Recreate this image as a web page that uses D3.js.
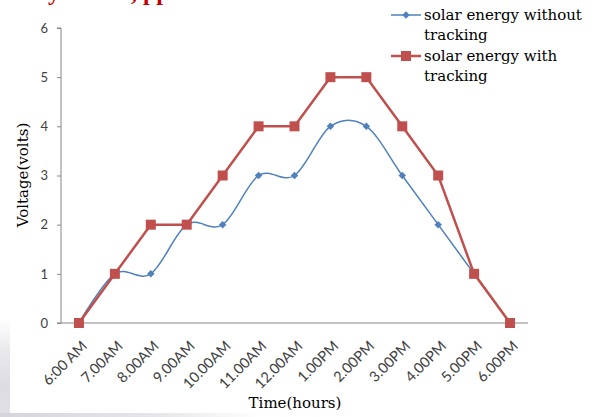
<!DOCTYPE html>
<html>
<head>
<meta charset="utf-8">
<script src="https://cdn.jsdelivr.net/npm/d3@7"></script>
<style>
  html, body { margin: 0; padding: 0; background: #fff; }
  svg { display: block; }
</style>
</head>
<body>
<svg id="chart" width="595" height="417"></svg>
<script>
// Hour labels along the x axis
const hours = ["6:00 AM", "7.00AM", "8.00AM", "9.00AM", "10.00AM", "11.00AM", "12.00AM",
               "1.00PM", "2.00PM", "3.00PM", "4.00PM", "5.00PM", "6.00PM"];
// Measured voltage for each hour
const withoutTracking = [0, 1, 1, 2, 2, 3, 3, 4, 4, 3, 2, 1, 0];
const withTracking    = [0, 1, 2, 2, 3, 4, 4, 5, 5, 4, 3, 1, 0];
const voltTicks = [0, 1, 2, 3, 4, 5, 6];

const svg = d3.select("#chart");

// Soft grey edge at the lower left and bottom of the page
const defs = svg.append("defs");
const gv = defs.append("linearGradient").attr("id", "edgeV").attr("x1", 0).attr("y1", 0).attr("x2", 0).attr("y2", 1);
gv.append("stop").attr("offset", "0%").attr("stop-color", "#ffffff");
gv.append("stop").attr("offset", "35%").attr("stop-color", "#e8e8ec");
gv.append("stop").attr("offset", "70%").attr("stop-color", "#dcdce2");
gv.append("stop").attr("offset", "100%").attr("stop-color", "#e0e0e6");
const gh = defs.append("linearGradient").attr("id", "edgeH").attr("x1", 0).attr("y1", 0).attr("x2", 1).attr("y2", 0);
gh.append("stop").attr("offset", "0%").attr("stop-color", "#d4d4da");
gh.append("stop").attr("offset", "60%").attr("stop-color", "#e6e6ea");
gh.append("stop").attr("offset", "100%").attr("stop-color", "#ffffff");
svg.append("rect").attr("x", 0).attr("y", 318).attr("width", 10).attr("height", 99).attr("fill", "url(#edgeV)");
svg.append("rect").attr("x", 0).attr("y", 413).attr("width", 260).attr("height", 4).attr("fill", "url(#edgeH)");

// Heading text running off the top edge
const head = svg.append("g").attr("fill", "#c00000")
  .attr("font-family", "'Liberation Serif', serif").attr("font-weight", "bold").attr("font-size", 24);
head.append("text").attr("x", 48).attr("y", 0).text("y");
head.append("text").attr("x", 131).attr("y", 0).text(", pp");

const plotLeft = 61, plotRight = 528, plotTop = 28, plotBottom = 323;

const x = d3.scaleBand().domain(hours).range([plotLeft, plotRight]);
const y = d3.scaleLinear().domain([0, 6]).range([plotBottom, plotTop]);
const cx = d => x(d) + x.bandwidth() / 2;

// Y axis
const yAxis = svg.append("g").attr("transform", `translate(${plotLeft},0)`)
  .call(d3.axisLeft(y).tickValues(voltTicks).tickSize(4).tickPadding(9).tickFormat(d3.format("d")));
yAxis.select(".domain").attr("stroke", "#868686").attr("d", `M-4,${plotTop}H0V${plotBottom}`);
yAxis.selectAll(".tick line").attr("stroke", "#868686");
yAxis.selectAll(".tick text").attr("fill", "#404040")
  .attr("font-family", "Lato, sans-serif").attr("font-size", 13);

// X axis
const xAxis = svg.append("g").attr("transform", `translate(0,${plotBottom})`)
  .call(d3.axisBottom(x).tickSize(0).tickPadding(0));
xAxis.select(".domain").attr("stroke", "#868686").attr("d", `M${plotLeft - 4},0H${plotRight}`);
xAxis.selectAll(".tick text")
  .attr("fill", "#404040")
  .attr("font-family", "Lato, sans-serif").attr("font-size", 14.5)
  .attr("text-anchor", "end")
  .attr("dy", null)
  .attr("transform", "translate(9,24) rotate(-45)");

// Axis titles
svg.append("text").attr("x", 295).attr("y", 408).attr("text-anchor", "middle")
  .attr("font-family", "'DejaVu Serif', serif").attr("font-size", 15).attr("fill", "#000")
  .text("Time(hours)");
svg.append("text").attr("transform", "translate(28,175) rotate(-90)").attr("text-anchor", "middle")
  .attr("font-family", "'DejaVu Serif', serif").attr("font-size", 15).attr("fill", "#000")
  .text("Voltage(volts)");

const blue = "#4f81bd", red = "#c0504d";

// Without tracking: smoothed line with diamond markers
const smooth = d3.line().x((d, i) => cx(hours[i])).y(d => y(d)).curve(d3.curveCatmullRom.alpha(0));
svg.append("path").datum(withoutTracking).attr("d", smooth)
  .attr("fill", "none").attr("stroke", blue).attr("stroke-width", 1.5);
const diamond = d3.symbol().type(d3.symbolDiamond2).size(36);
svg.append("g").selectAll("path").data(withoutTracking).join("path")
  .attr("d", diamond).attr("fill", blue)
  .attr("transform", (d, i) => `translate(${cx(hours[i])},${y(d)})`);

// With tracking: straight segments with square markers
const straight = d3.line().x((d, i) => cx(hours[i])).y(d => y(d));
svg.append("path").datum(withTracking).attr("d", straight)
  .attr("fill", "none").attr("stroke", red).attr("stroke-width", 2.5);
svg.append("g").selectAll("rect").data(withTracking).join("rect")
  .attr("x", (d, i) => cx(hours[i]) - 5).attr("y", d => y(d) - 5)
  .attr("width", 10).attr("height", 10).attr("fill", red);

// Legend
const legend = svg.append("g")
  .attr("font-family", "'DejaVu Serif', serif").attr("font-size", 15).attr("fill", "#000");
const items = [
  { color: blue, lines: ["solar energy without", "tracking"], y: 15, kind: "diamond" },
  { color: red,  lines: ["solar energy with", "tracking"], y: 56, kind: "square" }
];
items.forEach(it => {
  legend.append("line").attr("x1", 391).attr("x2", 421).attr("y1", it.y).attr("y2", it.y)
    .attr("stroke", it.color).attr("stroke-width", it.kind === "square" ? 2.5 : 1.5);
  if (it.kind === "diamond") {
    legend.append("path").attr("d", diamond).attr("fill", it.color)
      .attr("transform", `translate(406,${it.y})`);
  } else {
    legend.append("rect").attr("x", 401).attr("y", it.y - 5).attr("width", 10).attr("height", 10)
      .attr("fill", it.color);
  }
  it.lines.forEach((t, k) => {
    legend.append("text").attr("x", 424).attr("y", it.y + 5 + k * 20).text(t);
  });
});
</script>
</body>
</html>
